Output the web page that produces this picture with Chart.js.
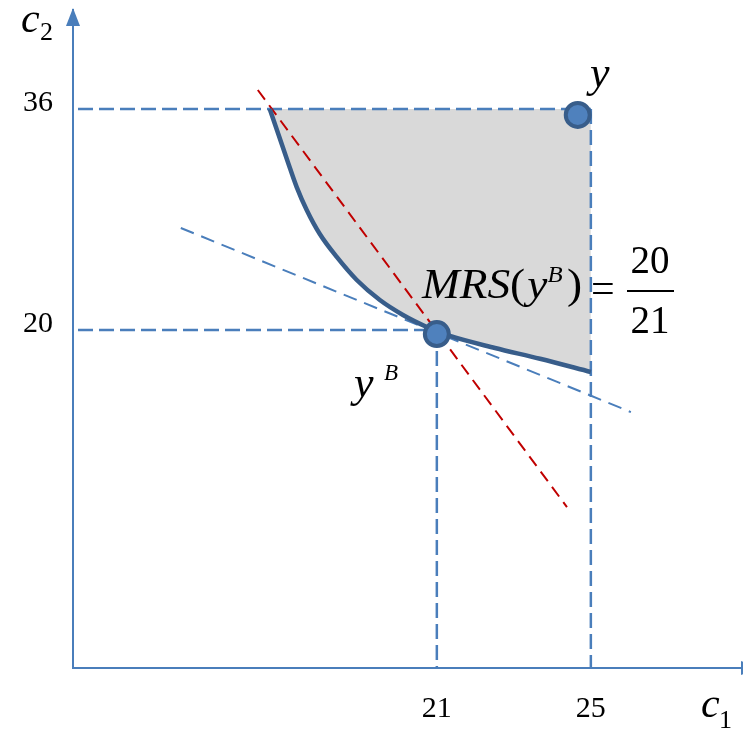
<!DOCTYPE html>
<html>
<head>
<meta charset="utf-8">
<script src="https://cdn.jsdelivr.net/npm/chart.js@4.4.0/dist/chart.umd.min.js"></script>
<style>
  body { margin: 0; background: #fff; }
  #wrap { width: 743px; height: 734px; }
</style>
</head>
<body>
<div id="wrap"><canvas id="diagram"></canvas></div>
<script>
// tick values on both axes
const xTicks = [21, 25];
const yTicks = [36, 20];

// indifference curve through y^B
const curveX = [16.66, 16.9, 17.13, 17.36, 17.62, 17.96, 18.4, 18.92, 19.52, 20.12, 20.74, 21, 21.34, 22.51, 23.68, 25];
const curveY = [36, 34.05, 32.17, 30.35, 28.69, 26.95, 25.29, 23.62, 22.17, 21.09, 20.22, 19.93, 19.57, 18.7, 17.92, 16.96];

// red dashed line and the blue dashed tangent (MRS)
const redX = [16.35, 24.38];
const redY = [37.38, 7.18];
const tanX = [14.35, 26.04];
const tanY = [27.39, 14.06];

// the two bundles: y and y^B
const bundleX = [24.66, 21];
const bundleY = [35.57, 19.71];

const xMin = 11.55, xMax = 28.9;
const yMin = -4.47, yMax = 43.17;
const guideStart = 11.68;

const axisBlue = '#4a7ebb';
const toPts = (xs, ys) => xs.map((x, i) => ({ x: x, y: ys[i] }));

const guides = [
  [{ x: guideStart, y: yTicks[0] }, { x: xTicks[1], y: yTicks[0] }],
  [{ x: guideStart, y: yTicks[1] }, { x: xTicks[0], y: yTicks[1] }],
  [{ x: xTicks[0], y: yTicks[1] }, { x: xTicks[0], y: yMin }],
  [{ x: xTicks[1], y: yTicks[0] }, { x: xTicks[1], y: yMin }]
];

const guideSets = guides.map(g => ({
  data: g, showLine: true, pointRadius: 0,
  borderColor: axisBlue, borderWidth: 2.5, borderDash: [15, 6], order: 8
}));

const serif = '"Liberation Serif", "Times New Roman", serif';

// drop the extra room Chart.js keeps for tick labels
const noPad = s => { s.paddingTop = s.paddingBottom = s.paddingLeft = s.paddingRight = 0; };

const decor = {
  id: 'decor',
  afterDraw(chart) {
    const c = chart.ctx, a = chart.chartArea;
    c.save();
    // arrow heads
    c.fillStyle = axisBlue;
    c.beginPath();
    c.moveTo(a.left, 8); c.lineTo(a.left - 7, 26); c.lineTo(a.left + 7, 26);
    c.closePath(); c.fill();
    c.beginPath();
    c.moveTo(741, a.bottom - 7); c.lineTo(758, a.bottom); c.lineTo(741, a.bottom + 7);
    c.closePath(); c.fill();

    c.fillStyle = '#000';
    c.textBaseline = 'alphabetic';
    c.textAlign = 'left';
    // axis names
    c.font = 'italic 42px ' + serif;
    c.fillText('c', 21, 32);
    c.fillText('c', 701, 717);
    c.font = '26px ' + serif;
    c.fillText('2', 40, 40);
    c.fillText('1', 719, 728);

    // bundle labels
    c.font = 'italic 44px ' + serif;
    c.fillText('y', 590, 87);
    c.fillText('y', 354, 397);
    c.font = 'italic 23px ' + serif;
    c.fillText('B', 384, 380);

    // MRS(y^B), stretched to the width it has in the picture
    const parts = [
      ['MRS', 'italic 42px ', 0, 0],
      ['(', '42px ', 0, 2],
      ['y', 'italic 42px ', 0, 0],
      ['B', 'italic 23px ', -16, 4],
      [')', '42px ', 0, 0]
    ];
    let w = 0;
    parts.forEach(p => { c.font = p[1] + serif; w += c.measureText(p[0]).width + p[3]; });
    c.save();
    c.translate(422, 298);
    c.scale(160 / w, 1);
    let x = 0;
    parts.forEach(p => {
      c.font = p[1] + serif;
      c.fillText(p[0], x, p[2]);
      x += c.measureText(p[0]).width + p[3];
    });
    c.restore();

    c.font = '42px ' + serif;
    c.fillText('=', 591, 302);
    c.textAlign = 'center';
    c.font = '39px ' + serif;
    c.fillText('20', 650, 273);
    c.fillText('21', 650, 333);
    c.fillRect(627, 290, 47, 2);
    c.restore();
  }
};

new Chart(document.getElementById('diagram'), {
  type: 'scatter',
  data: {
    datasets: [
      {
        data: toPts(bundleX, bundleY), pointRadius: 12, pointBorderWidth: 4,
        pointBackgroundColor: '#4f81bd', pointBorderColor: '#385d8a', order: 1
      },
      {
        data: toPts(curveX, curveY), showLine: true, pointRadius: 0,
        cubicInterpolationMode: 'monotone', borderColor: '#385d8a', borderWidth: 4.5, order: 2
      },
      {
        data: toPts(tanX, tanY), showLine: true, pointRadius: 0,
        borderColor: axisBlue, borderWidth: 2, borderDash: [14, 8], order: 3
      },
      {
        data: toPts(redX, redY), showLine: true, pointRadius: 0,
        borderColor: '#c00000', borderWidth: 2, borderDash: [12, 7], order: 4
      },
      ...guideSets,
      {
        data: toPts(curveX, curveY), showLine: true, pointRadius: 0, borderWidth: 0,
        cubicInterpolationMode: 'monotone', fill: { value: yTicks[0] },
        backgroundColor: '#d9d9d9', borderColor: 'rgba(0,0,0,0)', order: 10
      }
    ]
  },
  options: {
    responsive: true,
    maintainAspectRatio: false,
    animation: false,
    layout: { autoPadding: false, padding: { top: 10, right: 2, left: 0, bottom: 0 } },
    plugins: { legend: { display: false }, tooltip: { enabled: false } },
    scales: {
      x: {
        type: 'linear', min: xMin, max: xMax,
        grid: { display: false, drawTicks: false },
        border: { display: true, color: axisBlue, width: 2 },
        afterBuildTicks: s => { s.ticks = xTicks.map(v => ({ value: v })); },
        afterFit: s => { s.height = 66; noPad(s); },
        ticks: { padding: 23, color: '#000', font: { family: serif, size: 30 } }
      },
      y: {
        min: yMin, max: yMax,
        grid: { display: false, drawTicks: false },
        border: { display: true, color: axisBlue, width: 2 },
        afterBuildTicks: s => { s.ticks = yTicks.map(v => ({ value: v })); },
        afterFit: s => { s.width = 73; noPad(s); },
        ticks: { padding: 20, labelOffset: -6, color: '#000', font: { family: serif, size: 30 } }
      }
    }
  },
  plugins: [decor]
});
</script>
</body>
</html>
